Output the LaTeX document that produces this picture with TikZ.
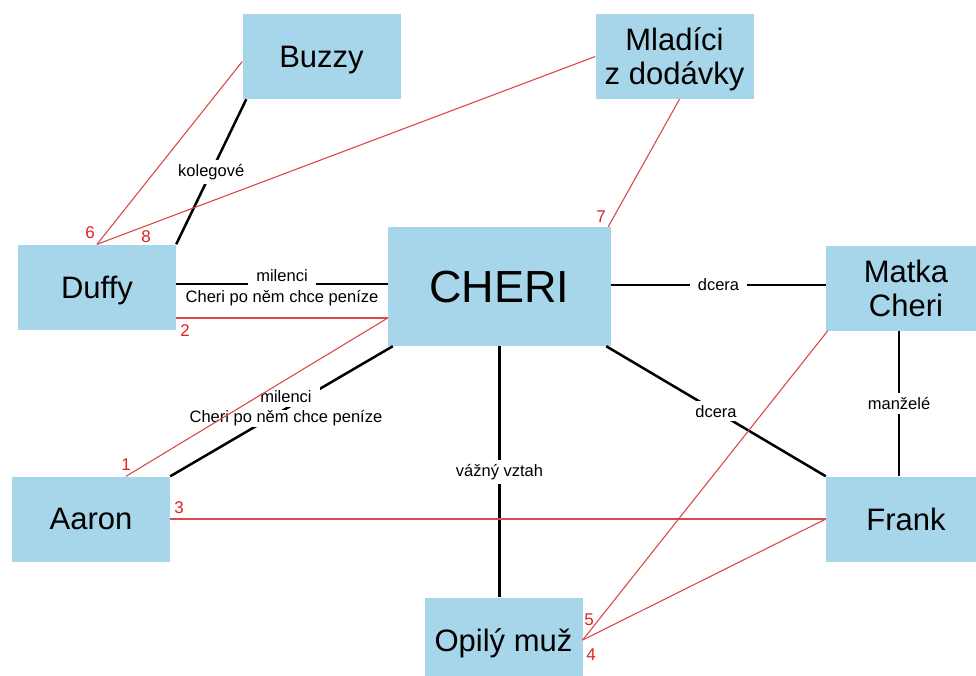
\documentclass[tikz,border=0pt]{standalone}
\usepackage{fontspec}
\setmainfont{Liberation Sans}
\usetikzlibrary{calc}
\definecolor{boxblue}{HTML}{A7D5EA}
\definecolor{plotred}{HTML}{D94A4A}
\definecolor{numred}{HTML}{E02020}
\tikzset{
  person/.style={fill=boxblue, minimum width=158pt, minimum height=85pt, align=center,
                 font=\fontsize{31}{34}\selectfont, inner sep=0pt, text depth=0pt},
  rel/.style={draw=black, line width=2.5pt},
  plot/.style={draw=plotred, line width=1.1pt},
  lbl/.style={fill=white, font=\fontsize{16.5}{20}\selectfont, inner xsep=8pt, inner ysep=4pt},
  lbltop/.style={lbl, anchor=base, inner ysep=4.5pt, yshift=3pt},
  lblbot/.style={lbl, anchor=base, inner ysep=1pt, yshift=-18pt},
  num/.style={font=\fontsize{17}{17}\selectfont, text=numred, inner sep=0pt}
}

\begin{document}
\begin{tikzpicture}[x=1pt,y=-1pt]
  \useasboundingbox (0,0) rectangle (976,675);

  % people
  \node[person] (buzzy) at (321.5,56.5) {Buzzy};
  \node[person] (mladici) at (674.5,56.5) {Mladíci\\z dodávky};
  \node[person] (duffy) at (97,287) {Duffy};
  \node[person, minimum width=223pt, minimum height=119pt,
        font=\fontsize{45}{50}\selectfont] (cheri) at (499.5,286.5) {CHERI};
  \node[person, minimum width=160pt] (matka) at (906,288) {Matka\\Cheri};
  \node[person] (aaron) at (91,519) {Aaron};
  \node[person, minimum width=160pt] (frank) at (906,519) {Frank};
  \node[person] (opily) at (503.5,640) {Opilý muž};

  % relations
  \draw[rel] ([xshift=4pt]buzzy.south west) -- node[lbl] (kolegove) {kolegové} (duffy.north east);
  \draw[rel] ([yshift=3pt]duffy.east) --
      node[lbltop] (milenci1) {milenci}
      node[lblbot] (penize1) {Cheri po něm chce peníze}
      ([yshift=3pt]duffy.east -| cheri.west);
  \draw[rel] ([yshift=3pt]matka.west -| cheri.east) -- node[lbl] (dcera1) {dcera} ([yshift=3pt]matka.west);
  \draw[rel] ([xshift=-7pt]matka.south) -- node[lbl] (manzele) {manželé} ([xshift=-7pt]frank.north);
  \draw[rel] ([xshift=-5pt]cheri.south east) -- node[lbl] (dcera2) {dcera} (frank.north west);
  \draw[rel] ([xshift=5pt]cheri.south west) --
      node[lbltop, pos=0.48, yshift=3pt] (milenci2) {milenci}
      node[lblbot, pos=0.48, yshift=4pt] (penize2) {Cheri po něm chce peníze}
      (aaron.north east);
  \draw[rel] (cheri.south) -- node[lbl] (vazny) {vážný vztah} (cheri.south |- opily.north);

  % plot lines
  \coordinate (c2) at ([yshift=-31.5pt]cheri.west);
  \draw[plot] ([yshift=-5pt]buzzy.west) -- (duffy.north);
  \draw[plot] (mladici.west) -- (duffy.north);
  \draw[plot] ([xshift=5pt]mladici.south) -- ([xshift=-3pt]cheri.north east);
  \draw[plot] (c2 -| duffy.east) -- (c2);
  \draw[plot] (c2) -- ([xshift=35pt]aaron.north);
  \draw[plot] (aaron.east) -- (frank.west);
  \draw[plot] (frank.west) -- (opily.east);
  \draw[plot] ([xshift=2pt]matka.south west) -- (opily.east);

  \foreach \n/\x/\y in {1/126/465, 2/185/331, 3/179/508, 4/591/655,
                        5/589/620, 6/90/233, 7/601/217, 8/146/237}
    \node[num] (num\n) at (\x,\y) {\n};
\end{tikzpicture}
\end{document}
